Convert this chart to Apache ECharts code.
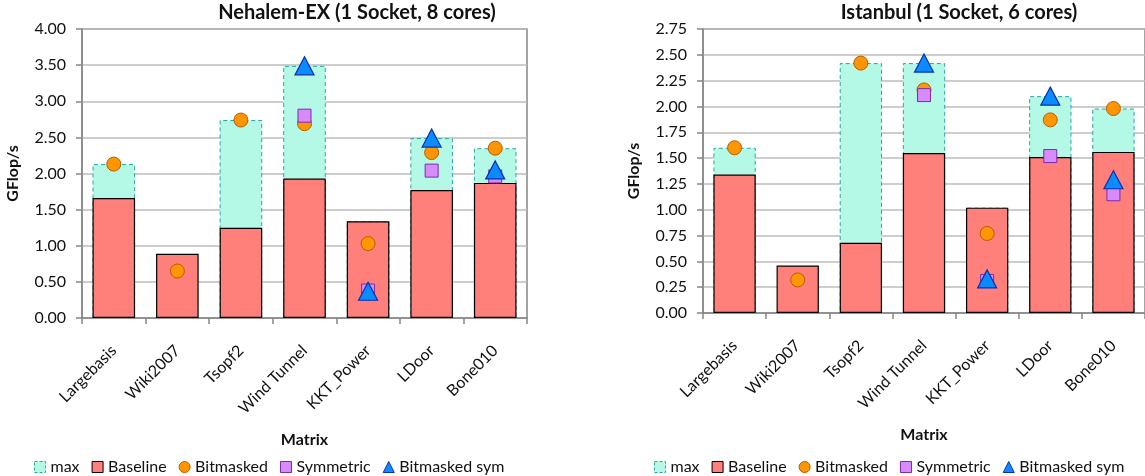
<!DOCTYPE html>
<html>
<head>
<meta charset="utf-8">
<script src="https://cdn.jsdelivr.net/npm/echarts@6/dist/echarts.min.js"></script>
<style>
html,body{margin:0;padding:0;background:#fff;}
#c{width:1145px;height:476px;}
</style>
</head>
<body>
<div id="c"></div>
<script>
const categories = ['Largebasis','Wiki2007','Tsopf2','Wind Tunnel','KKT_Power','LDoor','Bone010'];
const seriesNames = ['max','Baseline','Bitmasked','Symmetric','Bitmasked sym'];

const nehTitle = 'Nehalem-EX (1 Socket, 8 cores)';
const nehYTicks = [0, 0.5, 4.0];           // min, interval, max
const nehMax = [2.13, null, 2.74, 3.49, 1.34, 2.49, 2.35];
const nehBaseline = [1.66, 0.89, 1.25, 1.93, 1.34, 1.77, 1.87];
const nehBitmasked = [2.13, 0.65, 2.74, 2.69, 1.03, 2.29, 2.35];
const nehSymmetric = [null, null, null, 2.80, 0.38, 2.04, 1.96];
const nehBitmaskedSym = [null, null, null, 3.49, 0.37, 2.49, 2.05];

const istTitle = 'Istanbul (1 Socket, 6 cores)';
const istYTicks = [0, 0.25, 2.75];
const istMax = [1.60, null, 2.42, 2.42, 1.02, 2.10, 1.98];
const istBaseline = [1.34, 0.46, 0.68, 1.55, 1.02, 1.51, 1.56];
const istBitmasked = [1.60, 0.32, 2.42, 2.16, 0.77, 1.87, 1.98];
const istSymmetric = [null, null, null, 2.11, 0.31, 1.52, 1.15];
const istBitmaskedSym = [null, null, null, 2.42, 0.33, 2.10, 1.29];

const xName = 'Matrix';
const yName = 'GFlop/s';

const FONT = 'Lato, "Open Sans", sans-serif';
const C = {
  maxFill:'#B3F9E6', maxBorder:'#2AA6A3',
  base:'#FF7F7A',
  circ:'#FF9500', circB:'#B85E00',
  sq:'#D98BFB', sqB:'#7A2FA8',
  tri:'#0A8CFF', triB:'#0A2FB0',
  axis:'#878787', grid:'#BDBDBD'
};

function makeAxes(gi, ticks) {
  const x = {
    type:'category', gridIndex:gi, data:categories,
    name:xName, nameLocation:'middle', nameGap:114,
    nameTextStyle:{fontFamily:FONT, fontWeight:'bold', fontSize:16, color:'#111'},
    axisLine:{lineStyle:{color:C.axis, width:1.5}},
    axisTick:{show:true, length:6, lineStyle:{color:C.axis, width:1.5}},
    axisLabel:{rotate:45, margin:30, fontFamily:FONT, fontSize:16, color:'#111', interval:0}
  };
  const y = {
    type:'value', gridIndex:gi, min:ticks[0], interval:ticks[1], max:ticks[2],
    name:yName, nameLocation:'middle', nameGap:61, nameRotate:90,
    nameTextStyle:{fontFamily:FONT, fontWeight:'bold', fontSize:16, color:'#111'},
    axisLine:{show:true, lineStyle:{color:C.axis, width:1.5}},
    axisTick:{show:true, length:6, lineStyle:{color:C.axis, width:1.5}},
    splitLine:{lineStyle:{color:C.grid, width:1.5}},
    axisLabel:{fontFamily:FONT, fontSize:16, color:'#111', margin:16, formatter:v=>v.toFixed(2)}
  };
  return [x, y];
}

function makeSeries(gi, d) {
  return [
    {name:seriesNames[0], type:'bar', xAxisIndex:gi, yAxisIndex:gi, data:d[0], barWidth:'67%', barGap:'-100%',
      itemStyle:{color:C.maxFill, borderColor:C.maxBorder, borderWidth:1, borderType:[4,3]}},
    {name:seriesNames[1], type:'bar', xAxisIndex:gi, yAxisIndex:gi, data:d[1], barWidth:'67%', barGap:'-100%',
      itemStyle:{color:C.base, borderColor:'#000', borderWidth:1.2}},
    {name:seriesNames[2], type:'scatter', xAxisIndex:gi, yAxisIndex:gi, data:d[2], symbol:'circle', symbolSize:14,
      itemStyle:{color:C.circ, borderColor:C.circB, borderWidth:1, opacity:1}},
    {name:seriesNames[3], type:'scatter', xAxisIndex:gi, yAxisIndex:gi, data:d[3], symbol:'rect', symbolSize:13,
      itemStyle:{color:C.sq, borderColor:C.sqB, borderWidth:1, opacity:1}},
    {name:seriesNames[4], type:'scatter', xAxisIndex:gi, yAxisIndex:gi, data:d[4], symbol:'triangle', symbolSize:[19,18],
      itemStyle:{color:C.tri, borderColor:C.triB, borderWidth:1.2, opacity:1}}
  ];
}

function legendCfg(left) {
  return {
    left:left, top:454, itemWidth:11, itemHeight:11, itemGap:12,
    textStyle:{fontFamily:FONT, fontSize:16, color:'#111'},
    selectedMode:false,
    data:[
      {name:seriesNames[0], icon:'rect', itemStyle:{color:C.maxFill, borderColor:C.maxBorder, borderWidth:1, borderType:[3,2]}},
      {name:seriesNames[1], icon:'rect', itemStyle:{color:C.base, borderColor:'#000', borderWidth:1}},
      {name:seriesNames[2], icon:'circle', itemStyle:{color:C.circ, borderColor:C.circB, borderWidth:1}},
      {name:seriesNames[3], icon:'rect', itemStyle:{color:C.sq, borderColor:C.sqB, borderWidth:1}},
      {name:seriesNames[4], icon:'triangle', itemStyle:{color:C.tri, borderColor:C.triB, borderWidth:1}}
    ]
  };
}

const [x0, y0] = makeAxes(0, nehYTicks);
const [x1, y1] = makeAxes(1, istYTicks);

const chart = echarts.init(document.getElementById('c'));
chart.setOption({
  animation:false,
  backgroundColor:'#fff',
  grid:[
    {left:82, top:29, right:618, bottom:158, show:true, borderColor:C.axis, borderWidth:1.5, backgroundColor:'transparent'},
    {left:703, top:29, right:-3, bottom:163, show:true, borderColor:C.axis, borderWidth:1.5, backgroundColor:'transparent'}
  ],
  xAxis:[x0, x1],
  yAxis:[y0, y1],
  legend:[legendCfg(29), legendCfg(649)],
  graphic:[
    {type:'text', x:357, y:3, style:{text:nehTitle, font:'bold 20px ' + FONT, fill:'#111', textAlign:'center'}},
    {type:'text', x:959, y:3, style:{text:istTitle, font:'bold 20px ' + FONT, fill:'#111', textAlign:'center'}}
  ],
  series:[
    ...makeSeries(0, [nehMax, nehBaseline, nehBitmasked, nehSymmetric, nehBitmaskedSym]),
    ...makeSeries(1, [istMax, istBaseline, istBitmasked, istSymmetric, istBitmaskedSym])
  ]
});
</script>
</body>
</html>
